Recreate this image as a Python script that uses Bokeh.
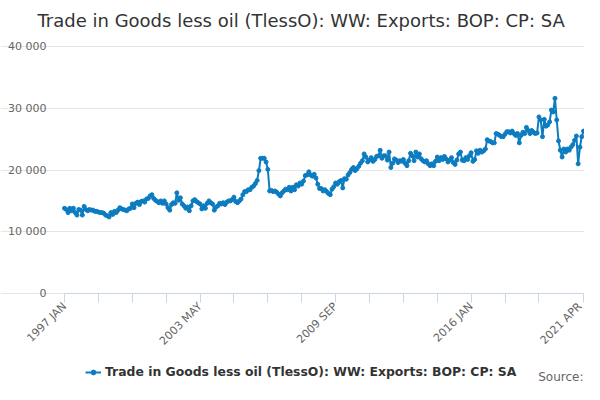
from bokeh.plotting import figure
from bokeh.models import Range1d, FixedTicker, Legend, Label
from bokeh.embed import file_html
from bokeh.resources import INLINE

TITLE = "Trade in Goods less oil (TlessO): WW: Exports: BOP: CP: SA"
SERIES_NAME = "Trade in Goods less oil (TlessO): WW: Exports: BOP: CP: SA"
SOURCE = "Source:"

# monthly values, 1997 JAN .. 2021 APR (GBP million)
values = [
    13800, 13600, 13100, 13800, 13400, 13800, 13100, 12700, 13600, 13500,
    12700, 14100, 13600, 13400, 13600, 13500, 13500, 13300, 13300, 13200,
    13100, 13100, 13000, 12700, 12600, 12400, 13100, 12800, 13300, 13100,
    13500, 13900, 13700, 13600, 13500, 13400, 13700, 13800, 14500, 13900,
    14600, 14800, 14400, 14900, 15000, 14800, 15300, 15400, 15800, 16000,
    15400, 15100, 14900, 14700, 15000, 14600, 15000, 14500, 13900, 13500,
    14400, 14700, 14600, 16300, 15100, 15500, 14500, 14200, 13800, 14000,
    13400, 14200, 15000, 15200, 14900, 14700, 14500, 13700, 14200, 13800,
    14600, 15000, 14700, 14500, 13500, 14000, 14200, 14600, 14500, 14700,
    14400, 14800, 15000, 15000, 15200, 15600, 14900, 14700, 15000, 15300,
    16000, 16500, 16500, 16800, 16800, 17200, 17400, 17800, 18300, 19900,
    21900, 21900, 21900, 21300, 20100, 16600, 16700, 16500, 16600, 16400,
    16100, 15800, 16300, 16600, 16900, 16800, 17200, 16600, 17200, 16800,
    17600, 17400, 17900, 17700, 18200, 19100, 19200, 19700, 19200, 19000,
    19300, 18700, 17700, 17000, 17000, 16600, 16800, 16500, 16200, 16000,
    16900, 17300, 17900, 17700, 18100, 18300, 17100, 18600, 18500, 19200,
    19600, 20100, 20400, 19900, 20200, 20600, 21100, 21500, 22600, 22100,
    21300, 21600, 22000, 21400, 21700, 22200, 22300, 23200, 21900, 22300,
    22300, 21600, 22900, 20400, 21100, 21800, 21600, 21200, 21500, 21400,
    21700, 21100, 20700, 21500, 22700, 22300, 21500, 22900, 22100, 22600,
    21800, 21500, 21300, 21500, 21000, 20700, 21000, 20700, 21400, 22100,
    21500, 22000, 21700, 22200, 21800, 21300, 21600, 22000, 21200, 20900,
    21600, 22600, 22900, 21600, 21500, 22000, 21700, 22300, 22800, 21400,
    21700, 23100, 22700, 23200, 22900, 23100, 23400, 24900, 24700, 24600,
    24400, 24400, 25900, 25800, 25600, 25400, 25400, 25800, 26200, 26200,
    26000, 26300, 25900, 25600, 25900, 24400, 25600, 26100, 25900, 26900,
    26400, 25900, 26400, 26100, 25900, 26000, 28600, 28100, 25400, 28200,
    27100, 27300, 27800, 29700, 29400, 31600, 28100, 24700, 23200, 22100,
    23400, 22900, 23400, 23200, 23700, 24100, 24800, 25500, 21000, 23700,
    25400, 26300,
]
months = list(range(len(values)))

x_ticks = [0, 19, 38, 57, 76, 95, 114, 133, 152, 171, 190, 209, 228, 247, 266, 291]
x_tick_labels = {0: "1997 JAN", 76: "2003 MAY", 152: "2009 SEP", 228: "2016 JAN", 291: "2021 APR"}
y_ticks = [0, 10000, 20000, 30000, 40000]
y_tick_labels = ["0", "10 000", "20 000", "30 000", "40 000"]

COLOR = "#0c7cc0"
FONT = "DejaVu Sans"

# The frame covers the whole 584x384 figure; the plotting area proper is
# x: 64..583 px (months 0..last), y: 46..293 px (40000..0).
W, H = 584, 384
PL, PR, PT, PB = 64, 583, 46, 293
N = len(values) - 1
Y_MAX = 40000
ux = N / (PR - PL)           # months per px
uy = Y_MAX / (PB - PT)       # value per px
x_range = Range1d(-PL * ux, N + (W - PR) * ux)
y_range = Range1d(-(H - PB) * uy, Y_MAX + PT * uy)

p = figure(width=W, height=H, output_backend="svg", toolbar_location=None,
           x_range=x_range, y_range=y_range,
           min_border_left=0, min_border_right=0, min_border_top=0, min_border_bottom=0)
p.frame_width = W
p.frame_height = H
p.outline_line_color = None
p.background_fill_color = "white"
p.border_fill_color = "white"

line_r = p.line(months, values, line_width=2, color=COLOR)
dot_r = p.scatter(months, values, size=4, color=COLOR)

# x axis, pinned at value 0
xa = p.xaxis[0]
xa.fixed_location = 0
xa.bounds = (0, N)
xa.ticker = FixedTicker(ticks=x_ticks)
xa.major_label_overrides = {t: x_tick_labels.get(t, "") for t in x_ticks}
xa.major_label_orientation = 0.785398
xa.axis_line_color = "#ccd6eb"
xa.major_tick_line_color = "#ccd6eb"
xa.major_tick_out = 9
xa.major_tick_in = 0
xa.minor_tick_line_color = None
xa.major_label_text_font = FONT
xa.major_label_text_font_size = "11px"
xa.major_label_text_color = "#666666"
xa.major_label_standoff = 2

# y axis, pinned at month 0
ya = p.yaxis[0]
ya.fixed_location = 0
ya.ticker = FixedTicker(ticks=y_ticks)
ya.major_label_overrides = {t: l for t, l in zip(y_ticks, y_tick_labels)}
ya.axis_line_color = None
ya.major_tick_line_color = None
ya.minor_tick_line_color = None
ya.major_tick_out = 0
ya.major_tick_in = 0
ya.major_label_text_font = FONT
ya.major_label_text_font_size = "11px"
ya.major_label_text_color = "#666666"
ya.major_label_standoff = 18

p.xgrid.grid_line_color = None
p.ygrid.grid_line_color = "#e6e6e6"
p.ygrid.ticker = FixedTicker(ticks=y_ticks)
p.ygrid.bounds = (0, N)

# title
p.add_layout(Label(x=37, y=H - 9, x_units="screen", y_units="screen", text=TITLE,
                   text_font=FONT, text_font_size="18px", text_color="#333333",
                   text_align="left", text_baseline="top"))

lg = Legend(items=[(SERIES_NAME, [line_r, dot_r])], location=(85, 5))
lg.border_line_color = None
lg.background_fill_alpha = 0
lg.padding = 0
lg.margin = 0
lg.spacing = 0
lg.glyph_width = 16
lg.glyph_height = 12
lg.label_standoff = 4
lg.label_text_font = FONT
lg.label_text_font_size = "12.4px"
lg.label_text_font_style = "bold"
lg.label_text_color = "#333333"
lg.label_height = 12
p.add_layout(lg, "center")

p.add_layout(Label(x=W - 1, y=1, x_units="screen", y_units="screen", text=SOURCE,
                   text_font=FONT, text_font_size="12px", text_color="#666666",
                   text_align="right", text_baseline="bottom"))

open("out.html", "w").write(file_html(p, INLINE))
